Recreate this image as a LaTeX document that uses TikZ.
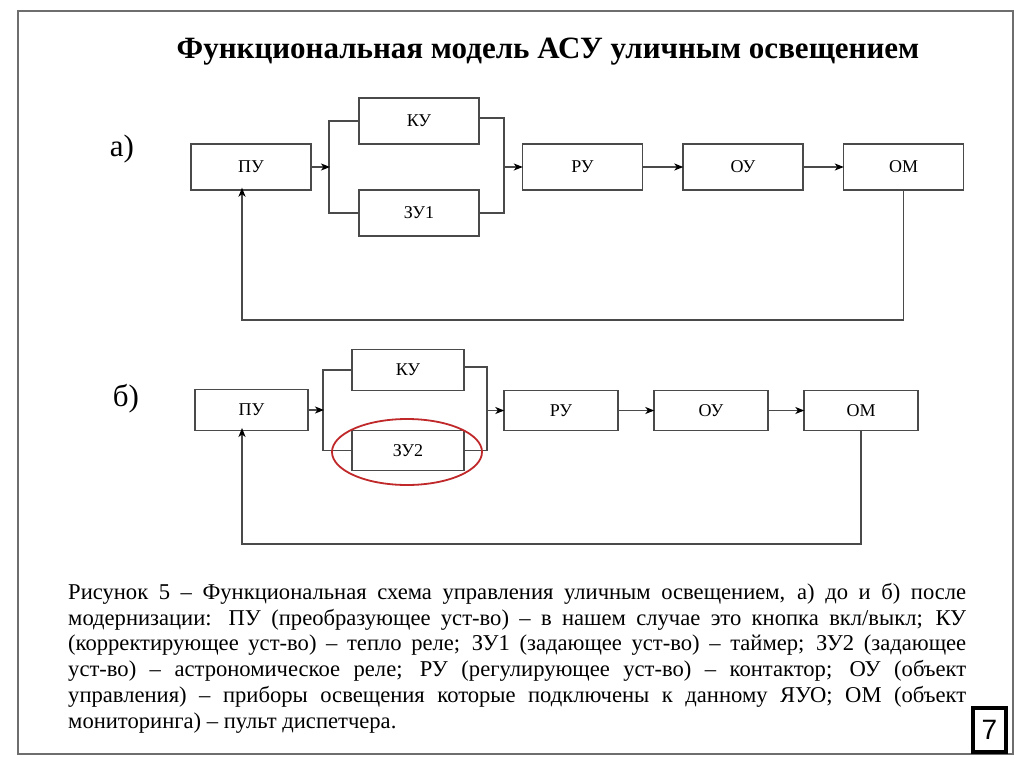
\documentclass[tikz,border=0pt]{standalone}
\usepackage{fontspec}
\setmainfont{Liberation Serif}
\newfontfamily\sansf{Liberation Sans}
\usetikzlibrary{arrows.meta,shapes.geometric}
\definecolor{ln}{HTML}{4A4A4A}
\definecolor{fr}{HTML}{6E6E6E}
\definecolor{hl}{HTML}{C0282A}
\begin{document}
\begin{tikzpicture}[x=1pt,y=-1pt,
  blk/.style={draw=ln, line width=1.4pt, inner sep=0pt, font=\fontsize{18}{20}\selectfont},
  blkA/.style={blk, minimum width=120pt, minimum height=46pt},
  blkB/.style={blk, minimum width=113pt, minimum height=40.5pt},
  con/.style={draw=ln, line width=1.3pt},
  arr/.style={con, -{Stealth[length=9pt,width=7pt,inset=2.5pt,color=black]}, shorten >=-1pt},
  lbl/.style={font=\fontsize{31}{34}\selectfont, inner sep=0pt}]
\fill[white] (0,0) rectangle (1024,767);
\useasboundingbox (0,0) rectangle (1024,767);
\draw[fr, line width=2pt] (18,11) rectangle (1013,754);

\node[font=\bfseries\fontsize{31}{34}\selectfont, inner sep=0pt] (title) at (548,52) {Функциональная модель АСУ уличным освещением};

% ---------- a)
\node[lbl] (la) at (122,149) {а)};
\node[blkA] (apu) at (251,167) {ПУ};
\node[blkA] (aku) at (419,121) {КУ};
\node[blkA] (azu) at (419,213) {ЗУ1};
\node[blkA] (aru) at (582.5,167) {РУ};
\node[blkA] (aou) at (743,167) {ОУ};
\node[blkA] (aom) at (903.5,167) {ОМ};
\coordinate (aLt) at (329,121);
\coordinate (aLb) at (329,213);
\coordinate (aL) at (329,167);
\coordinate (aRt) at (504,118);
\coordinate (aRb) at (504,213);
\coordinate (aR) at (504,167);
\coordinate (afb) at (242,320);
\draw[con] (aku.west) -- (aLt) -- (aLb) -- (azu.west);
\draw[con] (aku.east |- aRt) -- (aRt) -- (aRb) -- (azu.east);
\draw[arr] (apu.east) -- (aL);
\draw[arr] (aR) -- (aru.west);
\draw[arr] (aru) -- (aou);
\draw[arr] (aou) -- (aom);
\draw[arr] (aom.south) |- (afb) -- ([yshift=2pt]apu.south -| afb);

% ---------- b)
\node[lbl] (lb) at (126,399) {б)};
\node[blkB] (bpu) at (251.5,410) {ПУ};
\node[blkB, minimum width=112pt] (bku) at (408,370) {КУ};
\node[blkB, minimum width=112pt] (bzu) at (408,450.5) {ЗУ2};
\node[blkB, minimum width=114pt] (bru) at (561,410.5) {РУ};
\node[blkB, minimum width=114pt] (bou) at (711,410.5) {ОУ};
\node[blkB, minimum width=114pt] (bom) at (861,410.5) {ОМ};
\coordinate (bLt) at (323,370);
\coordinate (bLb) at (323,450.5);
\coordinate (bL) at (323,410);
\coordinate (bRt) at (487,367);
\coordinate (bRb) at (487,450.5);
\coordinate (bR) at (487,410.5);
\coordinate (bfb) at (242,544);
\draw[con] (bku.west) -- (bLt) -- (bLb) -- (bzu.west);
\draw[con] (bku.east |- bRt) -- (bRt) -- (bRb) -- (bzu.east);
\draw[arr] (bpu.east) -- (bL);
\draw[arr] (bR) -- (bru.west);
\draw[arr] (bru) -- (bou);
\draw[arr] (bou) -- (bom);
\draw[arr] (bom.south) |- (bfb) -- ([yshift=2pt]bpu.south -| bfb);
\node[draw=hl, line width=1.8pt, ellipse, minimum width=150pt, minimum height=66pt, inner sep=0pt] (ring) at (407,452) {};

% ---------- caption
\node[anchor=north west, inner sep=0pt, text width=898pt, align=justify,
      font=\fontsize{22.6}{25.8}\selectfont] (cap) at (68,583)
{\hyphenpenalty=10000\exhyphenpenalty=10000
Рисунок 5 – Функциональная схема управления уличным освещением, а) до и б) после\linebreak
модернизации: ПУ (преобразующее уст-во) – в нашем случае это кнопка вкл/выкл; КУ\linebreak
(корректирующее уст-во) – тепло реле; ЗУ1 (задающее уст-во) – таймер; ЗУ2 (задающее\linebreak
уст-во) – астрономическое реле; РУ (регулирующее уст-во) – контактор; ОУ (объект\linebreak
управления) – приборы освещения которые подключены к данному ЯУО; ОМ (объект\linebreak
мониторинга) – пульт диспетчера.};

% ---------- page number
\node[draw=black, line width=3.5pt, minimum width=33pt, minimum height=44pt, inner sep=0pt,
      font=\sansf\fontsize{28}{30}\selectfont] (pg) at (989.5,730) {7};
\end{tikzpicture}
\end{document}
